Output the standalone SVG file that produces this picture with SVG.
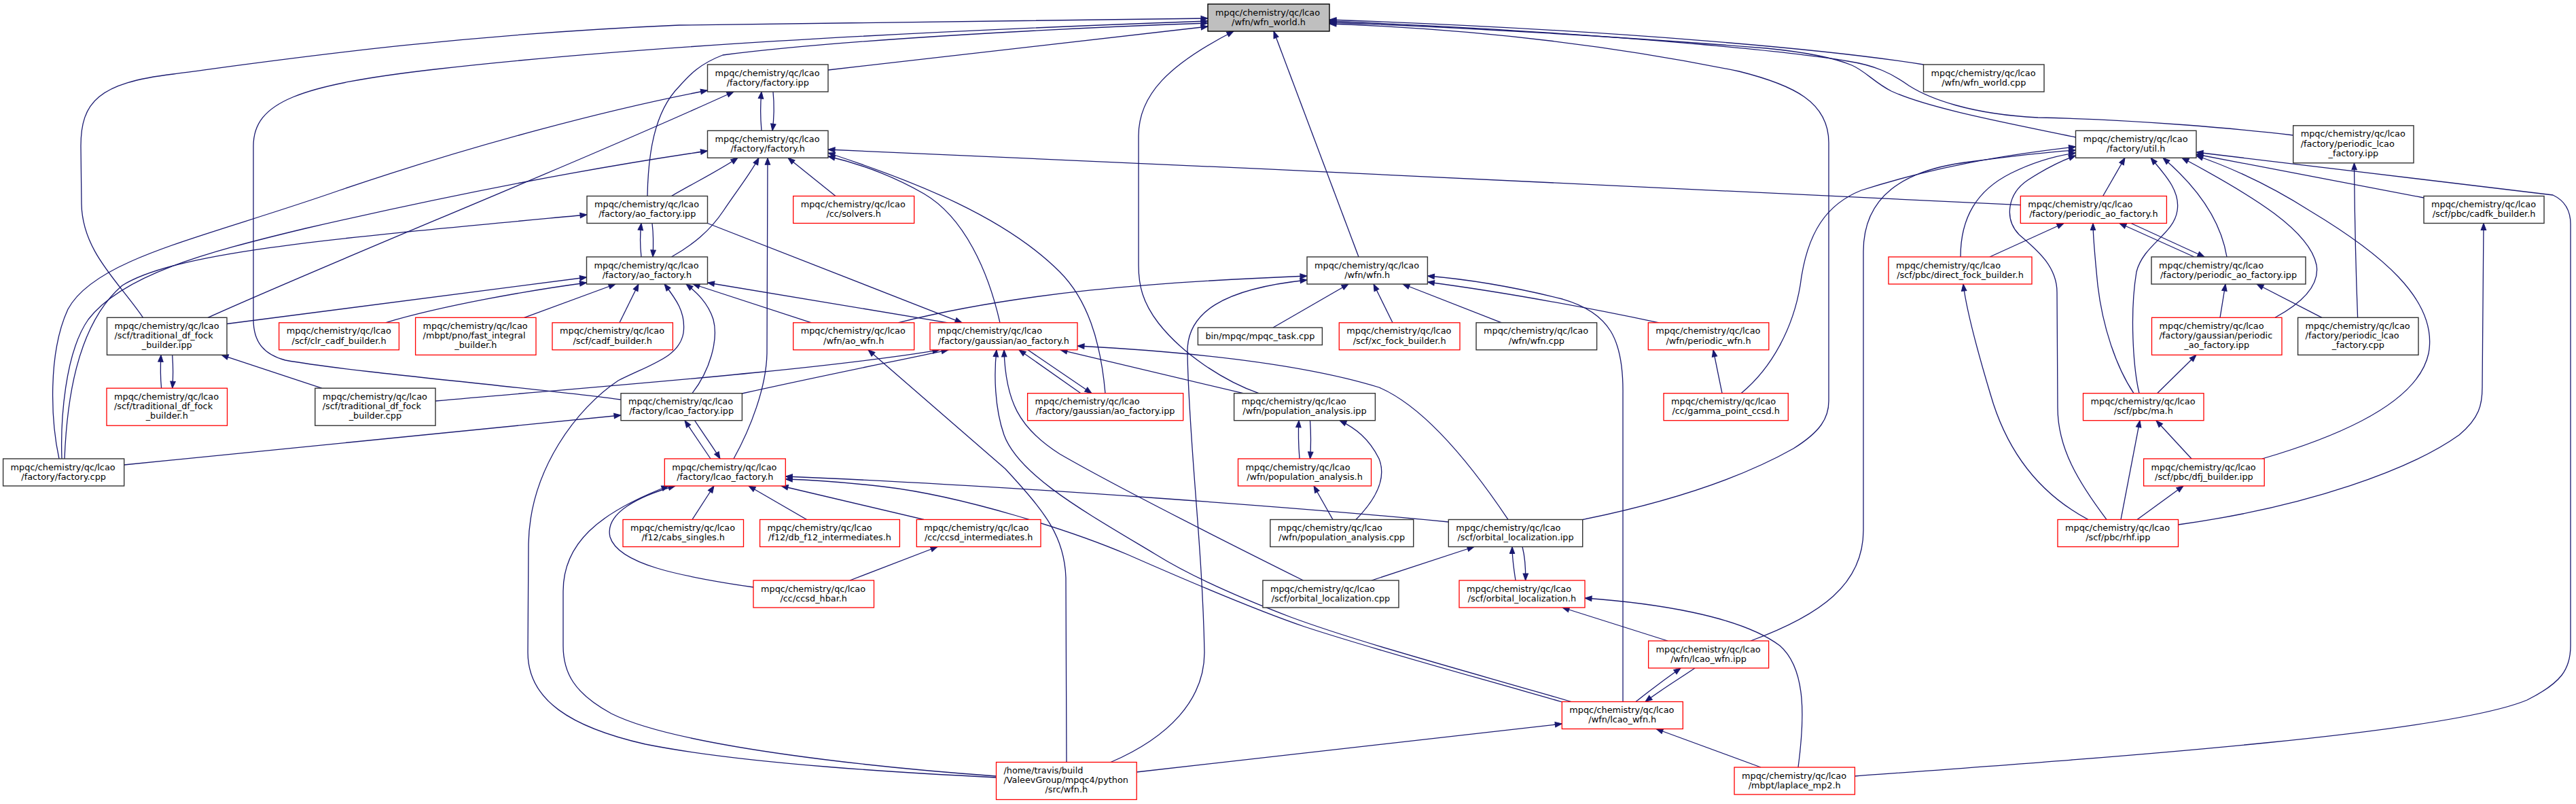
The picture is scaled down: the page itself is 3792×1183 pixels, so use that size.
<svg xmlns="http://www.w3.org/2000/svg" width="3792" height="1183" viewBox="0 0 3792 1183">
<defs>
<style>
.n rect{fill:#fff;stroke:#333;stroke-width:1.4}
.r rect{fill:#fff;stroke:#f00;stroke-width:1.3}
.root rect{fill:#bfbfbf;stroke:#000;stroke-width:1.4}
text{font-family:"DejaVu Sans","Liberation Sans",sans-serif;font-size:12.83px;fill:#000}
.m{text-anchor:middle}
#edges path{fill:none;stroke:#191970;stroke-width:1.3;marker-end:url(#ah)}
</style>
<marker id="ah" markerUnits="userSpaceOnUse" markerWidth="12" markerHeight="10" refX="10" refY="3.75" orient="auto" overflow="visible"><path d="M0,0L10,3.75L0,7.5z" fill="#191970" stroke="#191970" stroke-width="1"/></marker>
</defs>
<rect width="3792" height="1183" fill="#fff"/>
<g id="edges">
<path d="M210.5,467.3 C175,415 121,370 120,300 L119,215 C119,150 145,122 255,109 C400,90 650,52 1000,37 L1778,27"/>
<path d="M914,588 C800,572 520,548 420,530 C390,522 373,505 373,470 L373,215 C373,150 440,125 640,102 C900,72 1300,48 1778,31"/>
<path d="M1219,103 L1778,39"/>
<path d="M953,288.5 C954,230 962,165 1000,127 C1015,110 1030,94 1064,81 C1250,57 1600,40 1778,34"/>
<path d="M2831.5,95 C2700,74 2400,45 1957,29"/>
<path d="M3375.7,199 C3300,190 3150,176 3000,173 C2900,168 2840,145 2810,126 C2785,108 2760,96 2720,90 C2650,78 2400,50 1957,31"/>
<path d="M3055.5,202 C2960,182 2840,160 2784,134 C2760,122 2745,104 2726,96 C2700,85 2660,77 2600,71 C2400,55 2150,40 1957,33"/>
<path d="M2330,764.5 C2450,740 2560,705 2640,660 C2680,635 2692,615 2692,590 L2692,210 C2692,150 2640,125 2560,105 C2400,72 2200,44 1957,35"/>
<path d="M1853,578.7 C1800,560 1740,520 1705,475 C1682,445 1676,420 1676,390 L1676,200 C1676,140 1720,95 1816,46"/>
<path d="M2000,378 L1875,46"/>
<path d="M1121,192.3 C1119,170 1119,155 1121,135"/>
<path d="M1138,135 C1140,155 1140,170 1137,192.3"/>
<path d="M87,675 C75,620 70,520 100,455 C140,380 300,350 500,280 C700,212 900,160 1041.5,133"/>
<path d="M91,675 C89,620 95,520 130,470 C180,405 300,372 450,336 C650,290 850,250 1041.5,222"/>
<path d="M95,675 C98,600 110,480 180,420 C260,370 500,350 864,316"/>
<path d="M182.7,684 L914,611"/>
<path d="M306,467.3 C500,380 850,240 1080,135"/>
<path d="M334,476.5 L863.5,408"/>
<path d="M567.6,474.8 C650,450 780,427 863.5,416"/>
<path d="M771.7,467.3 L906,418"/>
<path d="M912,474.8 L940,418"/>
<path d="M944,378 C942,360 942,345 944,328.5"/>
<path d="M960,328.5 C962,345 962,360 961,378"/>
<path d="M988.5,288.5 C1020,270 1060,250 1086,232.3"/>
<path d="M988.5,378 C1020,360 1045,340 1065,310 C1085,280 1105,255 1117,232.3"/>
<path d="M1080,675 C1105,630 1128,570 1129,520 L1130,232.3"/>
<path d="M1230,288.5 L1160,232.3"/>
<path d="M2974.3,301.6 C2600,283 1800,245 1219,220"/>
<path d="M1472,474.8 C1455,400 1420,320 1360,285 C1320,262 1270,242 1219,230"/>
<path d="M1627,578.7 C1620,500 1600,440 1560,400 C1480,320 1350,268 1219,225"/>
<path d="M1041.5,328.5 L1416,474.8"/>
<path d="M1395,474.8 L1041.5,416"/>
<path d="M1194.5,474.8 L1020,418"/>
<path d="M1019,578.7 C1045,545 1058,500 1050,470 C1042,445 1025,430 1010,418"/>
<path d="M1466.5,1144 C1350,1138 1100,1125 950,1095 C840,1070 777,1030 777,960 L778,800 C780,690 850,600 910,560 C960,535 1000,525 1006,490 C1010,460 995,440 978,418"/>
<path d="M1466.5,1142 C1300,1130 1000,1100 900,1050 C845,1020 829,990 829,950 L829,870 C829,800 880,755 984,715"/>
<path d="M1109,864 C1000,848 910,830 898,790 C890,755 940,730 994,715"/>
<path d="M1019,764.5 L1051,715"/>
<path d="M1187.6,764.5 L1102,715"/>
<path d="M1360,764.5 L1150,715"/>
<path d="M1251,854 L1380,804.5"/>
<path d="M2132.3,768 C1950,750 1500,715 1156.3,701"/>
<path d="M2300,1033 C2150,990 2020,955 1920,922 C1850,898 1760,860 1660,816 C1580,782 1420,730 1300,716 C1230,708 1190,706 1156.3,705"/>
<path d="M2313,1032.5 C2150,985 2000,945 1900,908 C1800,870 1740,840 1700,815 C1600,755 1500,700 1478,640 C1464,600 1463,550 1467,514.8"/>
<path d="M1918.5,854 C1800,795 1650,720 1560,668 C1500,630 1480,590 1478,514.8"/>
<path d="M1092.4,579 C1200,555 1300,535 1396,514.8"/>
<path d="M641,590 C900,567 1200,545 1383,514.8"/>
<path d="M1591,578.7 L1500,514.8"/>
<path d="M1513,514.8 L1607,578.7"/>
<path d="M1830,578.7 L1561,514.8"/>
<path d="M2220,764.5 C2170,690 2100,600 2030,570 C1900,530 1700,515 1586,509"/>
<path d="M1322,474.8 C1500,430 1700,415 1924,406"/>
<path d="M1874,482 L1985,418"/>
<path d="M1635,1121.5 C1720,1085 1773,1030 1773,960 C1770,800 1750,650 1748,520 C1746,460 1800,425 1924,412"/>
<path d="M2050,474.8 L2022,418"/>
<path d="M2210.5,474.8 L2065,418"/>
<path d="M2389,1032.5 L2389,580 C2390,500 2370,460 2300,440 C2220,420 2150,410 2101.4,406"/>
<path d="M2442,474.8 C2300,445 2200,428 2101.4,415"/>
<path d="M2535,578.7 L2522,514.8"/>
<path d="M1913,675 C1911,650 1911,635 1912,618.7"/>
<path d="M1928.5,618.7 C1930,640 1930,655 1928.5,675"/>
<path d="M1962,764.5 L1934,715"/>
<path d="M1996,764.5 C2030,730 2040,700 2030,675 C2015,645 1995,630 1972,618.7"/>
<path d="M2019,854 L2170,804.5"/>
<path d="M2231,854 C2228,835 2226,820 2226,804.5"/>
<path d="M2241,804.5 C2245,820 2246,835 2245.6,854"/>
<path d="M2455,943 L2300,894"/>
<path d="M2647,1129 C2656,1060 2660,985 2620,950 C2560,905 2430,887 2333,880"/>
<path d="M2408,1032.5 C2430,1015 2450,1000 2474,983"/>
<path d="M2495,983 C2470,1000 2445,1015 2422,1032.5"/>
<path d="M1673.2,1136 L2299.3,1065"/>
<path d="M2592,1129 L2438,1072.5"/>
<path d="M2577,943 C2680,905 2743,860 2743,780 L2743,370 C2743,290 2800,250 2900,238 C2960,230 3010,224 3055.5,221"/>
<path d="M2563,578.7 C2610,540 2640,480 2650,420 C2660,340 2690,300 2740,280 C2850,245 2950,228 3055.5,216"/>
<path d="M2886,378 C2886,320 2910,280 2960,255 C2990,240 3020,230 3055.5,225"/>
<path d="M3101,764.5 C3060,710 3029,660 3029,600 L3028,430 C3028,390 2995,365 2972,345 C2950,322 2955,285 2985,265 C3005,252 3030,238 3055.5,229"/>
<path d="M3095.6,288.5 L3128,232.3"/>
<path d="M3149,578.7 C3140,540 3135,460 3145,400 C3155,360 3200,345 3205,310 C3210,280 3185,255 3166,232.3"/>
<path d="M3278,378 C3270,330 3240,280 3184,232.3"/>
<path d="M3349,467.3 C3390,445 3415,420 3410,390 C3400,340 3320,290 3212,232.3"/>
<path d="M3330,675 C3450,640 3560,590 3575,520 C3590,440 3500,370 3400,310 C3340,272 3280,245 3233,229"/>
<path d="M3568,291 L3233,227"/>
<path d="M2730.4,1142 C3100,1115 3600,1080 3720,1030 C3770,1005 3784,985 3784,950 L3784,330 C3784,310 3775,295 3758,287 L3233,224"/>
<path d="M2929,378 L3038,328.5"/>
<path d="M3141,578.7 C3115,540 3095,480 3088,420 C3084,380 3081,350 3081,328.5"/>
<path d="M3230,378 L3120,328.5"/>
<path d="M3137,328.5 L3245,378"/>
<path d="M3268,467.3 L3276,418"/>
<path d="M3418,467.3 L3322,418"/>
<path d="M3470.6,467.3 C3468,400 3466,300 3465.5,239.8"/>
<path d="M3175.5,578.7 L3233,522.3"/>
<path d="M3122,764.5 L3150,618.7"/>
<path d="M3226,675 L3174,618.7"/>
<path d="M3146,764.5 L3214,715"/>
<path d="M3074,764.5 C2990,720 2950,650 2930,580 C2912,520 2895,460 2890,418"/>
<path d="M3206.5,772 C3400,745 3550,690 3620,640 C3650,615 3654,595 3654,570 L3656,328.5"/>
<path d="M237.6,571.2 C236,555 236,540 237,522.3"/>
<path d="M253.7,522.3 C255,540 255,555 253.7,571.2"/>
<path d="M473.6,571.2 L326,522.3"/>
<path d="M1046,675 L1008,618.7"/>
<path d="M1022.6,618.7 C1035,638 1050,658 1060,675"/>
<path d="M1570,1121.5 L1569,850 C1567,790 1540,755 1480,690 L1278,514.8"/>
</g>
<g id="wfn_world" class="root"><rect x="1778" y="6" width="179" height="40"/><text x="1789" y="22.5">mpqc/chemistry/qc/lcao</text><text class="m" x="1867.5" y="36.7">/wfn/wfn_world.h</text></g>
<g id="factory_ipp" class="n"><rect x="1041.5" y="95" width="177.5" height="40"/><text x="1052.5" y="111.5">mpqc/chemistry/qc/lcao</text><text class="m" x="1130.25" y="125.7">/factory/factory.ipp</text></g>
<g id="wfn_world_cpp" class="n"><rect x="2831.5" y="95" width="177.5" height="40"/><text x="2842.5" y="111.5">mpqc/chemistry/qc/lcao</text><text class="m" x="2920.25" y="125.7">/wfn/wfn_world.cpp</text></g>
<g id="periodic_lcao_factory_ipp" class="n"><rect x="3375.7" y="184.8" width="177.3" height="55"/><text x="3386.7" y="201.3">mpqc/chemistry/qc/lcao</text><text x="3386.7" y="215.5">/factory/periodic_lcao</text><text class="m" x="3464.35" y="229.7">_factory.ipp</text></g>
<g id="factory_h" class="n"><rect x="1041.5" y="192.3" width="177.5" height="40"/><text x="1052.5" y="208.8">mpqc/chemistry/qc/lcao</text><text class="m" x="1130.25" y="223">/factory/factory.h</text></g>
<g id="util_h" class="n"><rect x="3055.5" y="192.3" width="177.5" height="40"/><text x="3066.5" y="208.8">mpqc/chemistry/qc/lcao</text><text class="m" x="3144.25" y="223">/factory/util.h</text></g>
<g id="ao_factory_ipp" class="n"><rect x="864" y="288.5" width="177.5" height="40"/><text x="875" y="305">mpqc/chemistry/qc/lcao</text><text class="m" x="952.75" y="319.2">/factory/ao_factory.ipp</text></g>
<g id="solvers_h" class="r"><rect x="1167.7" y="288.5" width="178" height="40"/><text x="1178.7" y="305">mpqc/chemistry/qc/lcao</text><text class="m" x="1256.7" y="319.2">/cc/solvers.h</text></g>
<g id="periodic_ao_factory_h" class="r"><rect x="2974.3" y="288.5" width="215.1" height="40"/><text x="2985.3" y="305">mpqc/chemistry/qc/lcao</text><text class="m" x="3081.85" y="319.2">/factory/periodic_ao_factory.h</text></g>
<g id="cadfk_builder_h" class="n"><rect x="3568" y="288.5" width="177" height="40"/><text x="3579" y="305">mpqc/chemistry/qc/lcao</text><text class="m" x="3656.5" y="319.2">/scf/pbc/cadfk_builder.h</text></g>
<g id="ao_factory_h" class="n"><rect x="863.5" y="378" width="178" height="40"/><text x="874.5" y="394.5">mpqc/chemistry/qc/lcao</text><text class="m" x="952.5" y="408.7">/factory/ao_factory.h</text></g>
<g id="wfn_h" class="n"><rect x="1924" y="378" width="177.4" height="40"/><text x="1935" y="394.5">mpqc/chemistry/qc/lcao</text><text class="m" x="2012.7" y="408.7">/wfn/wfn.h</text></g>
<g id="direct_fock_builder_h" class="r"><rect x="2780" y="378" width="211" height="40"/><text x="2791" y="394.5">mpqc/chemistry/qc/lcao</text><text class="m" x="2885.5" y="408.7">/scf/pbc/direct_fock_builder.h</text></g>
<g id="periodic_ao_factory_ipp" class="n"><rect x="3167" y="378" width="227" height="40"/><text x="3178" y="394.5">mpqc/chemistry/qc/lcao</text><text class="m" x="3280.5" y="408.7">/factory/periodic_ao_factory.ipp</text></g>
<g id="traditional_df_fock_builder_ipp" class="n"><rect x="157.5" y="467.3" width="176.5" height="55"/><text x="168.5" y="483.8">mpqc/chemistry/qc/lcao</text><text x="168.5" y="498">/scf/traditional_df_fock</text><text class="m" x="245.75" y="512.2">_builder.ipp</text></g>
<g id="clr_cadf_builder_h" class="r"><rect x="410.7" y="474.8" width="176.7" height="40"/><text x="421.7" y="491.3">mpqc/chemistry/qc/lcao</text><text class="m" x="499.05" y="505.5">/scf/clr_cadf_builder.h</text></g>
<g id="fast_integral_builder_h" class="r"><rect x="611.6" y="467.3" width="177.4" height="55"/><text x="622.6" y="483.8">mpqc/chemistry/qc/lcao</text><text x="622.6" y="498">/mbpt/pno/fast_integral</text><text class="m" x="700.3" y="512.2">_builder.h</text></g>
<g id="cadf_builder_h" class="r"><rect x="813" y="474.8" width="177.4" height="40"/><text x="824" y="491.3">mpqc/chemistry/qc/lcao</text><text class="m" x="901.7" y="505.5">/scf/cadf_builder.h</text></g>
<g id="ao_wfn_h" class="r"><rect x="1167.7" y="474.8" width="178" height="40"/><text x="1178.7" y="491.3">mpqc/chemistry/qc/lcao</text><text class="m" x="1256.7" y="505.5">/wfn/ao_wfn.h</text></g>
<g id="gaussian_ao_factory_h" class="r"><rect x="1369" y="474.8" width="217" height="40"/><text x="1380" y="491.3">mpqc/chemistry/qc/lcao</text><text class="m" x="1477.5" y="505.5">/factory/gaussian/ao_factory.h</text></g>
<g id="mpqc_task_cpp" class="n"><rect x="1763.4" y="482.05" width="183" height="25.5"/><text class="m" x="1854.9" y="498.8">bin/mpqc/mpqc_task.cpp</text></g>
<g id="xc_fock_builder_h" class="r"><rect x="1971.3" y="474.8" width="177.7" height="40"/><text x="1982.3" y="491.3">mpqc/chemistry/qc/lcao</text><text class="m" x="2060.15" y="505.5">/scf/xc_fock_builder.h</text></g>
<g id="wfn_cpp" class="n"><rect x="2173" y="474.8" width="177.6" height="40"/><text x="2184" y="491.3">mpqc/chemistry/qc/lcao</text><text class="m" x="2261.8" y="505.5">/wfn/wfn.cpp</text></g>
<g id="periodic_wfn_h" class="r"><rect x="2426.3" y="474.8" width="177.5" height="40"/><text x="2437.3" y="491.3">mpqc/chemistry/qc/lcao</text><text class="m" x="2515.05" y="505.5">/wfn/periodic_wfn.h</text></g>
<g id="gaussian_periodic_ao_factory_ipp" class="r"><rect x="3167.5" y="467.3" width="191.5" height="55"/><text x="3178.5" y="483.8">mpqc/chemistry/qc/lcao</text><text x="3178.5" y="498">/factory/gaussian/periodic</text><text class="m" x="3263.25" y="512.2">_ao_factory.ipp</text></g>
<g id="periodic_lcao_factory_cpp" class="n"><rect x="3382.6" y="467.3" width="177.4" height="55"/><text x="3393.6" y="483.8">mpqc/chemistry/qc/lcao</text><text x="3393.6" y="498">/factory/periodic_lcao</text><text class="m" x="3471.3" y="512.2">_factory.cpp</text></g>
<g id="traditional_df_fock_builder_h" class="r"><rect x="157" y="571.2" width="177.5" height="55"/><text x="168" y="587.7">mpqc/chemistry/qc/lcao</text><text x="168" y="601.9">/scf/traditional_df_fock</text><text class="m" x="245.75" y="616.1">_builder.h</text></g>
<g id="traditional_df_fock_builder_cpp" class="n"><rect x="463.8" y="571.2" width="177.2" height="55"/><text x="474.8" y="587.7">mpqc/chemistry/qc/lcao</text><text x="474.8" y="601.9">/scf/traditional_df_fock</text><text class="m" x="552.4" y="616.1">_builder.cpp</text></g>
<g id="lcao_factory_ipp" class="n"><rect x="914" y="578.7" width="178.4" height="40"/><text x="925" y="595.2">mpqc/chemistry/qc/lcao</text><text class="m" x="1003.2" y="609.4">/factory/lcao_factory.ipp</text></g>
<g id="gaussian_ao_factory_ipp" class="r"><rect x="1512.6" y="578.7" width="229.1" height="40"/><text x="1523.6" y="595.2">mpqc/chemistry/qc/lcao</text><text class="m" x="1627.15" y="609.4">/factory/gaussian/ao_factory.ipp</text></g>
<g id="population_analysis_ipp" class="n"><rect x="1816.6" y="578.7" width="207.8" height="40"/><text x="1827.6" y="595.2">mpqc/chemistry/qc/lcao</text><text class="m" x="1920.5" y="609.4">/wfn/population_analysis.ipp</text></g>
<g id="gamma_point_ccsd_h" class="r"><rect x="2449" y="578.7" width="183.3" height="40"/><text x="2460" y="595.2">mpqc/chemistry/qc/lcao</text><text class="m" x="2540.65" y="609.4">/cc/gamma_point_ccsd.h</text></g>
<g id="ma_h" class="r"><rect x="3066.5" y="578.7" width="177.5" height="40"/><text x="3077.5" y="595.2">mpqc/chemistry/qc/lcao</text><text class="m" x="3155.25" y="609.4">/scf/pbc/ma.h</text></g>
<g id="factory_cpp" class="n"><rect x="4.6" y="675" width="178.1" height="40"/><text x="15.6" y="691.5">mpqc/chemistry/qc/lcao</text><text class="m" x="93.65" y="705.7">/factory/factory.cpp</text></g>
<g id="lcao_factory_h" class="r"><rect x="978.3" y="675" width="178" height="40"/><text x="989.3" y="691.5">mpqc/chemistry/qc/lcao</text><text class="m" x="1067.3" y="705.7">/factory/lcao_factory.h</text></g>
<g id="population_analysis_h" class="r"><rect x="1822.5" y="675" width="196" height="40"/><text x="1833.5" y="691.5">mpqc/chemistry/qc/lcao</text><text class="m" x="1920.5" y="705.7">/wfn/population_analysis.h</text></g>
<g id="dfj_builder_ipp" class="r"><rect x="3155.6" y="675" width="177.6" height="40"/><text x="3166.6" y="691.5">mpqc/chemistry/qc/lcao</text><text class="m" x="3244.4" y="705.7">/scf/pbc/dfj_builder.ipp</text></g>
<g id="cabs_singles_h" class="r"><rect x="917" y="764.5" width="177.5" height="40"/><text x="928" y="781">mpqc/chemistry/qc/lcao</text><text class="m" x="1005.75" y="795.2">/f12/cabs_singles.h</text></g>
<g id="db_f12_intermediates_h" class="r"><rect x="1118.6" y="764.5" width="205.8" height="40"/><text x="1129.6" y="781">mpqc/chemistry/qc/lcao</text><text class="m" x="1221.5" y="795.2">/f12/db_f12_intermediates.h</text></g>
<g id="ccsd_intermediates_h" class="r"><rect x="1349.3" y="764.5" width="182.7" height="40"/><text x="1360.3" y="781">mpqc/chemistry/qc/lcao</text><text class="m" x="1440.65" y="795.2">/cc/ccsd_intermediates.h</text></g>
<g id="population_analysis_cpp" class="n"><rect x="1869.8" y="764.5" width="210.9" height="40"/><text x="1880.8" y="781">mpqc/chemistry/qc/lcao</text><text class="m" x="1975.25" y="795.2">/wfn/population_analysis.cpp</text></g>
<g id="orbital_localization_ipp" class="n"><rect x="2132.3" y="764.5" width="197.4" height="40"/><text x="2143.3" y="781">mpqc/chemistry/qc/lcao</text><text class="m" x="2231" y="795.2">/scf/orbital_localization.ipp</text></g>
<g id="rhf_ipp" class="r"><rect x="3029" y="764.5" width="177.5" height="40"/><text x="3040" y="781">mpqc/chemistry/qc/lcao</text><text class="m" x="3117.75" y="795.2">/scf/pbc/rhf.ipp</text></g>
<g id="ccsd_hbar_h" class="r"><rect x="1109" y="854" width="177.5" height="40"/><text x="1120" y="870.5">mpqc/chemistry/qc/lcao</text><text class="m" x="1197.75" y="884.7">/cc/ccsd_hbar.h</text></g>
<g id="orbital_localization_cpp" class="n"><rect x="1858.9" y="854" width="200.1" height="40"/><text x="1869.9" y="870.5">mpqc/chemistry/qc/lcao</text><text class="m" x="1958.95" y="884.7">/scf/orbital_localization.cpp</text></g>
<g id="orbital_localization_h" class="r"><rect x="2148" y="854" width="185" height="40"/><text x="2159" y="870.5">mpqc/chemistry/qc/lcao</text><text class="m" x="2240.5" y="884.7">/scf/orbital_localization.h</text></g>
<g id="lcao_wfn_ipp" class="r"><rect x="2426.6" y="943" width="177" height="40"/><text x="2437.6" y="959.5">mpqc/chemistry/qc/lcao</text><text class="m" x="2515.1" y="973.7">/wfn/lcao_wfn.ipp</text></g>
<g id="lcao_wfn_h" class="r"><rect x="2299.3" y="1032.5" width="178" height="40"/><text x="2310.3" y="1049">mpqc/chemistry/qc/lcao</text><text class="m" x="2388.3" y="1063.2">/wfn/lcao_wfn.h</text></g>
<g id="python_wfn_h" class="r"><rect x="1466.5" y="1121.5" width="206.7" height="55"/><text x="1477.5" y="1138">/home/travis/build</text><text x="1477.5" y="1152.2">/ValeevGroup/mpqc4/python</text><text class="m" x="1569.85" y="1166.4">/src/wfn.h</text></g>
<g id="laplace_mp2_h" class="r"><rect x="2553" y="1129" width="177.4" height="40"/><text x="2564" y="1145.5">mpqc/chemistry/qc/lcao</text><text class="m" x="2641.7" y="1159.7">/mbpt/laplace_mp2.h</text></g>
</svg>
